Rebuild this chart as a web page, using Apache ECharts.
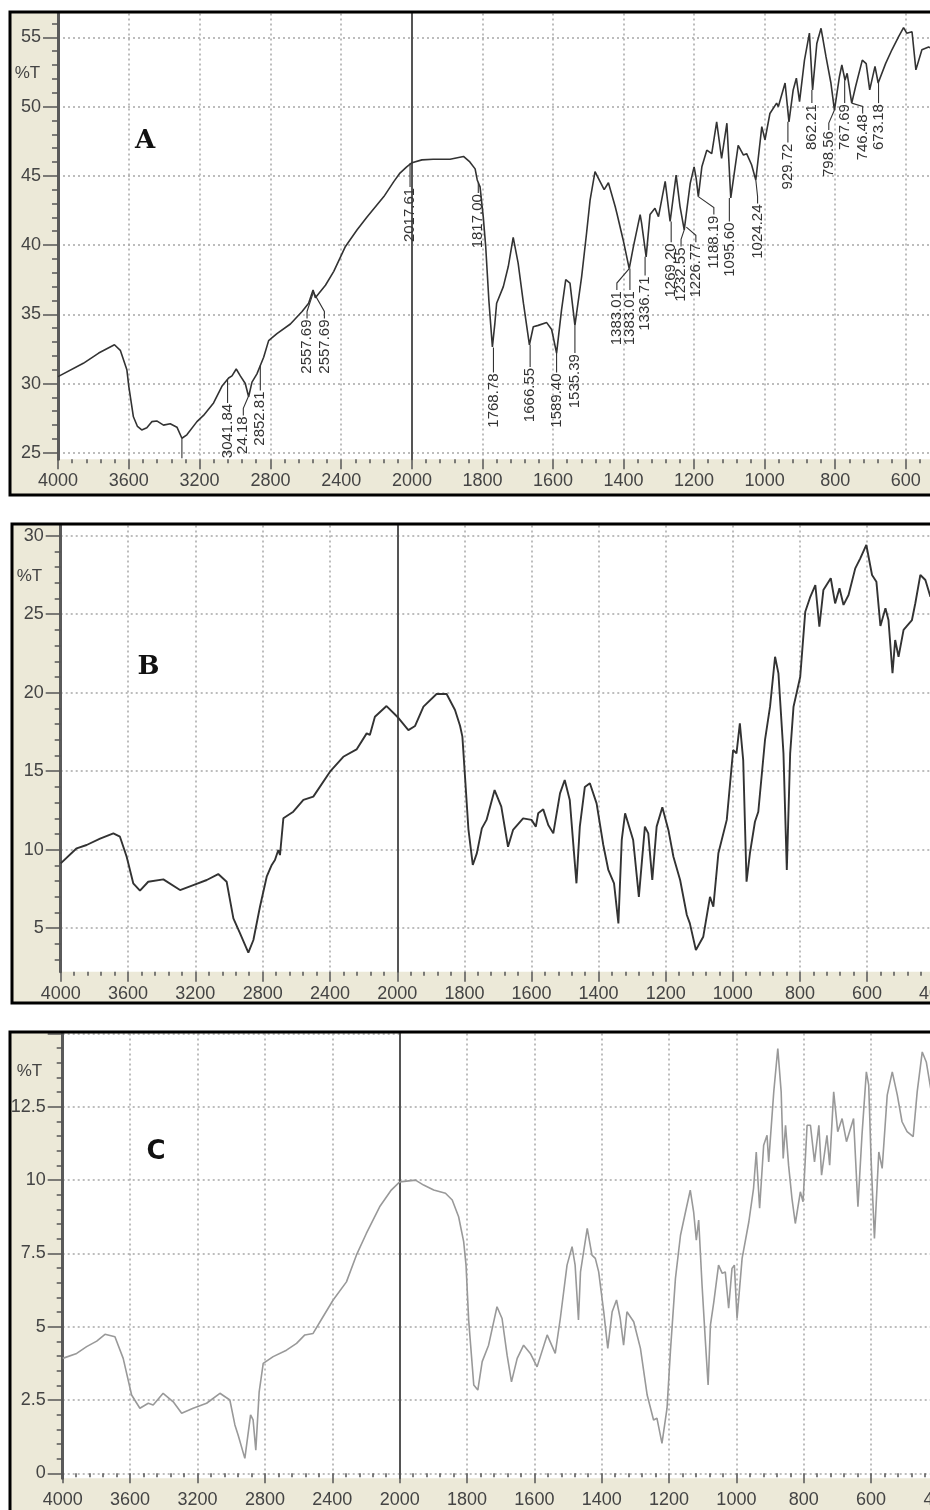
<!DOCTYPE html>
<html><head><meta charset="utf-8">
<script src="https://cdn.jsdelivr.net/npm/echarts@6/dist/echarts.min.js"></script>
<style>html,body{margin:0;padding:0;background:#fff}#c{width:930px;height:1510px}</style>
</head><body><div id="c"></div>
<script>
// ---------- Spectrum A ----------
const A_wn = [4000,3857,3770,3681,3648,3611,3600,3574,3551,3527,3498,3470,3442,3404,3366,3328,3300,3272,3215,3178,3121,3074,3036,3017,2993,2970,2942,2923,2904,2876,2857,2838,2810,2763,2687,2621,2584,2559,2546,2489,2442,2376,2310,2253,2159,2102,2068,2030,2000,
1972,1940,1892,1854,1836,1821,1815,1807,1798,1791,1782,1772,1765,1760,1741,1727,1713,1699,1684,1667,1656,1642,1618,1604,1590,1576,1564,1552,1538,1519,1505,1495,1481,1467,1455,1443,1424,1419,1401,1384,1372,1353,1349,1336,1325,1311,1301,1282,1268,1251,1240,1228,1211,1200,1194,1188,1178,1164,1150,1136,1122,1107,1096,1075,1060,1051,1037,1025,1008,999,985,966,961,942,931,919,910,901,887,873,864,852,840,826,812,802,788,781,772,766,753,742,723,712,702,687,678,657,639,620,606,597,582,571,554,535,525];
const A_t = [30.5,31.46,32.2,32.8,32.4,31.0,29.8,27.6,26.9,26.65,26.8,27.25,27.3,27.0,27.1,26.85,26.05,26.3,27.25,27.7,28.6,29.8,30.4,30.55,31.05,30.55,30.0,29.05,30.1,30.7,31.3,31.9,33.1,33.6,34.3,35.2,35.8,36.75,36.2,37.1,38.1,39.9,41.1,42.05,43.5,44.6,45.2,45.65,45.95,
46.15,46.2,46.2,46.4,46.0,45.5,44.7,44.2,42.05,39.9,36.0,32.65,34.35,35.8,37.0,38.45,40.55,38.7,35.8,32.8,34.1,34.2,34.4,33.9,32.2,35.3,37.5,37.25,34.2,37.7,40.85,43.25,45.3,44.6,44.0,44.5,42.8,42.3,40.35,38.3,39.9,42.2,41.6,39.15,42.2,42.65,42.05,44.6,41.7,45.05,42.8,41.1,44.45,45.65,44.8,43.5,45.65,46.85,46.6,48.9,46.25,48.8,43.4,47.2,46.5,46.6,45.8,44.7,48.55,47.6,49.5,50.25,50.0,51.7,48.9,51.2,52.05,50.35,53.35,55.3,51.2,54.55,55.65,53.6,51.7,49.75,52.15,53.0,51.9,52.4,50.25,51.45,53.35,53.1,51.2,52.9,51.7,53.1,54.1,55.05,55.7,55.3,55.4,52.65,54.1,54.3,54.2];
// peak annotations of A: text, marked point (wn, %T), label foot (wn, %T at label top end)
const A_annText = ['3041.84','24.18','2852.81','2557.69','2557.69','2017.61','1817.00','1768.78','1666.55','1589.40','1535.39','1383.01','1383.01','1336.71','1269.20','1232.55','1226.77','1188.19','1095.60','1024.24','929.72','862.21','798.56','767.69','746.48','673.18',''];
const A_annWn  = [3042,2925,2852,2557,2557,2011,1812,1769,1665,1590,1538,1384,1384,1336,1268,1228,1222,1188,1096,1025,931,864,802,772,753,678,3300];
const A_annT   = [30.3,29.05,31.3,36.6,36.6,45.9,44.5,32.6,32.8,32.2,34.2,38.3,38.3,39.15,41.7,41.1,41.3,43.5,43.4,44.7,48.9,51.2,49.75,51.9,50.25,51.7,26.05];
const A_labWn  = [3042,2953,2857,2593,2495,2011,1812,1769,1665,1590,1538,1419,1382,1339,1265,1237,1195,1144,1100,1020,934,866,818,773,722,677,3300];
const A_labT   = [28.6,27.7,29.5,34.7,34.7,44.2,43.75,30.8,31.2,30.8,32.2,36.75,36.75,37.8,40.2,39.9,40.2,42.2,41.7,43.0,47.4,50.25,48.3,50.25,49.5,50.25,24.6];

// ---------- Spectrum B ----------
const B_wn = [4000,3905,3846,3766,3687,3648,3608,3569,3529,3480,3390,3291,3212,3132,3064,3014,2974,2935,2885,2855,2816,2776,2746,2727,2707,2697,2677,2618,2558,2499,2400,2321,2242,2182,2163,2133,2064,2000,
1967,1947,1922,1883,1853,1828,1813,1806,1798,1788,1775,1763,1748,1734,1710,1690,1670,1655,1625,1600,1587,1580,1565,1550,1535,1515,1501,1486,1466,1456,1441,1426,1406,1386,1371,1354,1341,1331,1321,1297,1280,1262,1252,1240,1227,1210,1192,1177,1157,1137,1128,1110,1088,1068,1058,1043,1018,999,989,979,969,959,949,934,924,904,889,874,864,849,839,829,819,799,784,769,754,742,730,708,695,682,670,655,635,620,602,585,572,560,545,536,524,516,506,491,466,456,441,426,411];
const B_t = [9.13,10.09,10.3,10.7,11.04,10.83,9.55,7.86,7.39,7.96,8.11,7.43,7.75,8.07,8.45,7.96,5.63,4.68,3.44,4.25,6.37,8.28,9.03,9.34,9.98,9.66,12.0,12.42,13.17,13.38,14.97,15.92,16.39,17.41,17.31,18.47,19.15,18.47,
17.62,17.88,19.11,19.92,19.92,18.9,17.9,17.2,14.6,11.3,9.03,9.77,11.36,11.9,13.8,12.74,10.19,11.26,12.0,11.9,11.47,12.32,12.57,11.57,11.04,13.59,14.44,13.17,7.86,11.47,14.0,14.23,12.95,10.3,8.71,7.86,5.31,10.62,12.32,10.62,7.0,11.47,11.04,8.07,11.47,12.7,11.26,9.55,8.07,5.84,5.31,3.61,4.46,7.0,6.37,9.77,11.9,16.35,16.14,18.05,15.71,7.96,9.77,11.78,12.42,16.99,19.11,22.29,21.23,16.14,8.71,16.14,19.11,21.02,25.16,26.11,26.86,24.2,26.54,27.29,25.69,26.65,25.59,26.22,27.92,28.56,29.41,27.5,27.07,24.25,25.38,24.63,21.24,23.36,22.29,24.0,24.63,25.7,27.5,27.18,26.11];

// ---------- Spectrum C ----------
const C_wn = [4000,3917,3858,3798,3749,3690,3641,3591,3542,3492,3463,3404,3344,3294,3226,3146,3067,3008,2978,2959,2919,2885,2870,2854,2834,2810,2751,2672,2612,2563,2514,2455,2395,2316,2257,2198,2119,2050,2000,
1953,1929,1899,1864,1844,1825,1810,1803,1795,1780,1768,1755,1736,1711,1696,1681,1668,1651,1632,1612,1592,1562,1538,1523,1503,1488,1479,1469,1463,1443,1429,1419,1409,1394,1382,1369,1356,1345,1335,1325,1305,1285,1265,1246,1236,1221,1206,1196,1181,1166,1151,1137,1127,1119,1112,1102,1092,1084,1077,1067,1053,1042,1033,1023,1013,1006,998,983,963,949,941,931,919,909,904,889,877,867,861,854,845,835,825,810,802,790,780,768,755,747,731,723,711,699,686,673,652,639,627,614,607,600,590,577,567,552,537,522,508,493,475,463,448,436,423];
const C_t = [3.92,4.09,4.32,4.51,4.74,4.66,3.92,2.67,2.22,2.39,2.33,2.73,2.44,2.05,2.22,2.39,2.73,2.5,1.65,1.31,0.51,1.99,1.82,0.79,2.78,3.75,3.98,4.2,4.43,4.72,4.77,5.34,5.91,6.53,7.44,8.18,9.09,9.66,9.94,
10.0,9.83,9.66,9.55,9.32,8.75,7.9,7.1,5.2,3.01,2.84,3.81,4.37,5.68,5.28,4.03,3.12,3.92,4.37,4.09,3.63,4.72,4.09,5.28,7.1,7.73,7.1,5.23,6.87,8.35,7.44,7.33,6.87,5.51,4.26,5.51,5.91,5.28,4.37,5.51,5.17,4.26,2.67,1.82,1.88,1.02,2.22,4.15,6.65,8.12,8.92,9.66,8.92,7.95,8.64,6.42,4.49,3.01,5.06,5.85,7.1,6.82,6.87,5.63,6.99,7.1,5.28,7.33,8.58,9.72,10.96,9.04,11.19,11.53,10.62,13.01,14.49,13.01,10.74,11.87,10.51,9.38,8.52,9.6,9.26,11.87,11.87,10.62,11.87,10.17,11.53,10.51,13.01,11.65,12.1,11.31,12.1,9.09,11.53,13.69,13.24,10.74,8.01,10.96,10.4,12.9,13.69,12.9,11.99,11.65,11.48,13.01,14.37,14.03,13.13];

// ---------- tick labels ----------
const xLabelsLeft  = [4000,3600,3200,2800,2400,2000];
const xLabelsRight = [1800,1600,1400,1200,1000,800,600,400];
const A_yLabels = [25,30,35,40,45,50,55];
const A_yMinor  = [25,26,27,28,29,30,31,32,33,34,35,36,37,38,39,40,41,42,43,44,45,46,47,48,49,50,51,52,53,54,55,56];
const B_yLabels = [5,10,15,20,25,30];
const B_yMinor  = [3,4,5,6,7,8,9,10,11,12,13,14,15,16,17,18,19,20,21,22,23,24,25,26,27,28,29,30];
const C_yLabels = [0,2.5,5,7.5,10,12.5];
const C_yMinor  = [0,0.5,1,1.5,2,2.5,3,3.5,4,4.5,5,5.5,6,6.5,7,7.5,8,8.5,9,9.5,10,10.5,11,11.5,12,12.5,13,13.5,14,14.5,15];

const BEIGE = '#ECE9D8';
const FONT = '"Liberation Sans", Arial, sans-serif';
const dotted = {show:true, lineStyle:{color:'#a8a8a8', width:1.5, type:[2,3]}};
const plain = v => String(v);

const panels = [
  {wn:A_wn, t:A_t, yMin:24.53, yMax:56.72, yLabels:A_yLabels, yMajor:A_yLabels, yMinor:A_yMinor,
   left:58, mid:412, right:976.2, top:13.5, bottom:459.3, color:'#333', lw:1.6,
   box:[10,12,960,483], letter:'A', letterPos:[145,141], letterFont:'bold 26px "DejaVu Serif"', tPos:[27.5,73.5],
   ann:{text:A_annText, wn:A_annWn, t:A_annT, lwn:A_labWn, lt:A_labT}},
  {wn:B_wn, t:B_t, yMin:2.23, yMax:30.65, yLabels:B_yLabels, yMajor:B_yLabels, yMinor:B_yMinor,
   left:60.7, mid:397.3, right:934.1, top:525.5, bottom:971.7, color:'#333', lw:1.9,
   box:[12,524,960,479], letter:'B', letterPos:[148.5,667], letterFont:'bold 26px "DejaVu Serif"', tPos:[29.5,576.5]},
  {wn:C_wn, t:C_t, yMin:-0.17, yMax:15.0, yLabels:C_yLabels, yMajor:[0,2.5,5,7.5,10,12.5,15], yMinor:C_yMinor,
   left:62.7, mid:399.7, right:938.4, top:1033.5, bottom:1478.3, color:'#999', lw:1.6,
   box:[10,1032,960,520], letter:'C', letterPos:[156,1152.5], letterFont:'bold 26px "DejaVu Sans"', tPos:[29.5,1071.5]}
];

const grids=[], xAxes=[], yAxes=[], series=[], graphics=[];

panels.forEach(P => {
  const gL = grids.length;
  const h = P.bottom - P.top;
  const gridBase = {top:P.top, height:h, show:true, backgroundColor:'#fff', borderWidth:0, containLabel:false, outerBoundsMode:'none'};
  grids.push(Object.assign({left:P.left, width:P.mid-P.left}, gridBase));
  grids.push(Object.assign({left:P.mid, width:P.right-P.mid}, gridBase));

  const xBase = {type:'value', inverse:true, position:'bottom',
    axisLine:{show:false},
    minorTick:{show:true, splitNumber:5, length:4, lineStyle:{color:'#555', width:1.5}},
    splitLine:dotted};
  const xiL = xAxes.length;
  xAxes.push(Object.assign({}, xBase, {gridIndex:gL, min:2000, max:4000, interval:400,
    axisTick:{show:true, length:10, customValues:xLabelsLeft, lineStyle:{color:'#555', width:1.5}},
    axisLabel:{customValues:xLabelsLeft, formatter:plain, fontSize:18, fontFamily:FONT, color:'#444', margin:13}}));
  xAxes.push(Object.assign({}, xBase, {gridIndex:gL+1, min:400, max:2000, interval:200,
    axisTick:{show:true, length:10, customValues:xLabelsRight, lineStyle:{color:'#555', width:1.5}},
    axisLabel:{customValues:xLabelsRight, formatter:plain, fontSize:18, fontFamily:FONT, color:'#444', margin:13}}));

  const yiL = yAxes.length;
  yAxes.push({gridIndex:gL, type:'value', min:P.yMin, max:P.yMax, position:'left',
    axisLine:{show:true, onZero:false, lineStyle:{color:'#5a5a5a', width:3}},
    axisTick:{show:true, length:15, customValues:P.yMajor, lineStyle:{color:'#555', width:1.5}},
    axisLabel:{show:true, customValues:P.yLabels, formatter:plain, fontSize:18, fontFamily:FONT, color:'#444', margin:17},
    splitLine:dotted});
  yAxes.push({gridIndex:gL, type:'value', min:P.yMin, max:P.yMax, position:'left',
    axisLine:{show:false},
    axisTick:{show:true, length:6, customValues:P.yMinor, lineStyle:{color:'#555', width:1.5}},
    axisLabel:{show:false}, splitLine:{show:false}});
  yAxes.push({gridIndex:gL+1, type:'value', min:P.yMin, max:P.yMax, position:'left',
    axisLine:{show:true, onZero:false, lineStyle:{color:'#555', width:2}},
    axisTick:{show:false, customValues:P.yLabels},
    axisLabel:{show:false}, splitLine:dotted});
  const yiR = yiL + 2;

  const left = [], right = [];
  P.wn.forEach((w, k) => {
    if (w >= 2000) left.push([w, P.t[k]]);
    if (w <= 2000) right.push([w, P.t[k]]);
  });
  const lineBase = {type:'line', symbol:'none', showSymbol:false, silent:true, animation:false, z:3,
    lineStyle:{color:P.color, width:P.lw}};
  series.push(Object.assign({}, lineBase, {xAxisIndex:xiL, yAxisIndex:yiL, data:left}));
  series.push(Object.assign({}, lineBase, {xAxisIndex:xiL+1, yAxisIndex:yiR, data:right}));

  if (P.ann) {
    const annL = [], annR = [];
    P.ann.wn.forEach((w, k) => {
      const item = {value:[w, P.ann.t[k], P.ann.lwn[k], P.ann.lt[k]], txt:P.ann.text[k]};
      (w >= 2000 ? annL : annR).push(item);
    });
    const render = (list) => (params, api) => {
      const it = list[params.dataIndex];
      const p = api.coord([api.value(0), api.value(1)]);
      const q = api.coord([api.value(2), api.value(3)]);
      let pts;
      if (Math.abs(p[0]-q[0]) < 1.5) pts = [[q[0], p[1]], q];
      else pts = [p, [q[0], Math.max(p[1] + 3, q[1] - 7)], q];
      return {type:'group', children:[
        {type:'polyline', shape:{points:pts}, style:{stroke:'#333', lineWidth:1.1, fill:null}},
        {type:'text', x:q[0], y:q[1] + 1, rotation:Math.PI/2,
         style:{text:it.txt, x:0, y:0, align:'right', verticalAlign:'middle', font:'15px ' + FONT, fill:'#333'}}
      ]};
    };
    series.push({type:'custom', xAxisIndex:xiL, yAxisIndex:yiL, data:annL, renderItem:render(annL), z:5, silent:true, animation:false});
    series.push({type:'custom', xAxisIndex:xiL+1, yAxisIndex:yiR, data:annR, renderItem:render(annR), z:5, silent:true, animation:false});
  }

  const [bx, by, bw, bh] = P.box;
  graphics.push({type:'rect', z:-10, silent:true, shape:{x:bx, y:by, width:bw, height:bh}, style:{fill:BEIGE}});
  graphics.push({type:'rect', z:100, silent:true, shape:{x:bx, y:by, width:bw, height:bh}, style:{fill:null, stroke:'#000', lineWidth:3}});
  graphics.push({type:'text', z:100, silent:true, x:P.letterPos[0], y:P.letterPos[1],
    style:{text:P.letter, font:P.letterFont, fill:'#111', align:'center', verticalAlign:'middle'}});
  graphics.push({type:'text', z:100, silent:true, x:P.tPos[0], y:P.tPos[1],
    style:{text:'%T', font:'17px ' + FONT, fill:'#444', align:'center', verticalAlign:'middle'}});
});

const chart = echarts.init(document.getElementById('c'), null, {renderer:'canvas'});
chart.setOption({
  animation:false,
  backgroundColor:'#fff',
  grid:grids, xAxis:xAxes, yAxis:yAxes, series:series,
  graphic:{elements:graphics}
});
</script>
</body></html>
